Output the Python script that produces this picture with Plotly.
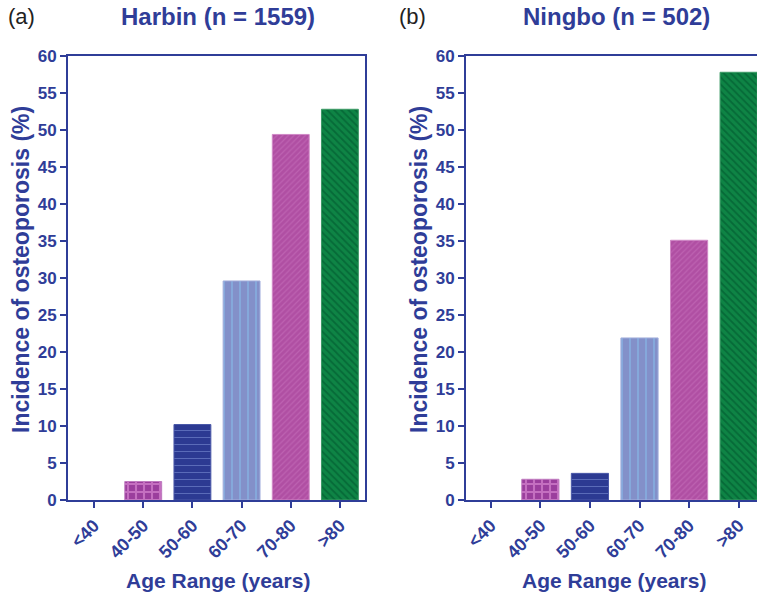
import plotly.graph_objects as go

# Age groups and osteoporosis incidence (%) for the two cohorts
age_groups = ["<40", "40-50", "50-60", "60-70", "70-80", ">80"]
harbin_pct = [0.0, 2.5, 10.2, 29.6, 49.4, 52.8]
ningbo_pct = [0.0, 2.8, 3.6, 21.9, 35.1, 57.8]
y_ticks = [0, 5, 10, 15, 20, 25, 30, 35, 40, 45, 50, 55, 60]

panel_titles = ["Harbin (n = 1559)", "Ningbo (n = 502)"]
panel_tags = ["(a)", "(b)"]
x_title = "Age Range (years)"
y_title = "Incidence of osteoporosis (%)"

# Per-age-group fill styling (fill colour, pattern colour, pattern shape)
bg_colors = ["#9b3e9d", "#9b3e9d", "#2c3a92", "#8390c9", "#b04fa3", "#0e8445"]
fg_colors = ["#c46fc0", "#c46fc0", "#5a6bb8", "#86b6e6", "#bd62b1", "#066a38"]
shapes = ["+", "+", "-", "|", "/", "\\"]
sizes = [8, 8, 7, 8, 4, 5]
solidity = [0.45, 0.45, 0.15, 0.16, 0.3, 0.35]
edge_colors = ["#c07cc0", "#c07cc0", "#4a58a8", "#a3afdc", "#d089c6", "#3d9a66"]
edge_widths = [0, 1, 1, 1, 1, 1]

BLUE = "#2f3d98"
FONT = "Liberation Sans, Arial, sans-serif"

W, H = 757, 595
ML, MR, MT, MB = 68, 0, 56, 95
plot_w = W - ML - MR
left_dom = [0, (365 - ML) / plot_w]
right_dom = [(466 - ML) / plot_w, 1]

fig = go.Figure()
for i, vals in enumerate([harbin_pct, ningbo_pct]):
    sfx = "" if i == 0 else "2"
    # one trace per bar so every bar carries its own fill pattern
    for j, cat in enumerate(age_groups):
        fig.add_trace(go.Bar(
            x=[cat], y=[vals[j]], width=0.75,
            xaxis="x" + sfx, yaxis="y" + sfx,
            marker=dict(
                color=bg_colors[j],
                line=dict(color=edge_colors[j], width=edge_widths[j]),
                pattern=dict(shape=shapes[j], bgcolor=bg_colors[j],
                             fgcolor=fg_colors[j], fgopacity=1,
                             size=sizes[j], solidity=solidity[j],
                             fillmode="replace"),
            ),
            showlegend=False,
        ))

axis_common = dict(
    showline=True, linecolor=BLUE, linewidth=2,
    ticks="outside", ticklen=6, tickwidth=2, tickcolor=BLUE,
    showgrid=False, zeroline=False,
)
xfont = dict(family=FONT, size=18, color=BLUE, weight="bold")
yfont = dict(family=FONT, size=17, color=BLUE, weight="bold")

fig.update_layout(
    width=W, height=H,
    margin=dict(l=ML, r=MR, t=MT, b=MB),
    paper_bgcolor="white", plot_bgcolor="white",
    barmode="overlay",
    xaxis=dict(domain=left_dom, range=[-0.53, 5.51], anchor="y",
               categoryorder="array", categoryarray=age_groups,
               tickangle=-45, tickfont=xfont, mirror=True, **axis_common),
    yaxis=dict(range=[0, 60], tickvals=y_ticks, anchor="x",
               tickfont=yfont, mirror=True, **axis_common),
    xaxis2=dict(domain=right_dom, range=[-0.5, 5.37], anchor="y2",
                categoryorder="array", categoryarray=age_groups,
                tickangle=-45, tickfont=xfont, mirror=True, **axis_common),
    yaxis2=dict(range=[0, 60], tickvals=y_ticks, anchor="x2",
                tickfont=yfont, mirror=False, **axis_common),
)

title_font = dict(family=FONT, size=24, color=BLUE, weight="bold")
label_font = dict(family=FONT, size=21, color=BLUE, weight="bold")
ax_font = dict(family=FONT, size=23, color=BLUE, weight="bold")
tag_font = dict(family=FONT, size=22, color="#222222")

annotations = []
title_x = [218, 616]
tag_x = [6, 397]
xt_x = [218, 614]
yt_x = [21, 419]
for i in range(2):
    annotations += [
        dict(text=panel_titles[i], x=title_x[i], y=17, xanchor="center",
             font=title_font),
        dict(text=panel_tags[i], x=tag_x[i], y=17, xanchor="left",
             font=tag_font),
        dict(text=x_title, x=xt_x[i], y=580, xanchor="center",
             font=label_font),
        dict(text=y_title, x=yt_x[i], y=270, xanchor="center",
             textangle=-90, font=ax_font),
    ]

# Convert page pixel positions into paper fractions of the plot area
for a in annotations:
    a["x"] = (a["x"] - ML) / plot_w
    a["y"] = (H - a["y"] - MB) / (H - MT - MB)
    a.update(xref="paper", yref="paper", yanchor="middle", showarrow=False)
fig.update_layout(annotations=annotations)

fig.write_html("out.html")
